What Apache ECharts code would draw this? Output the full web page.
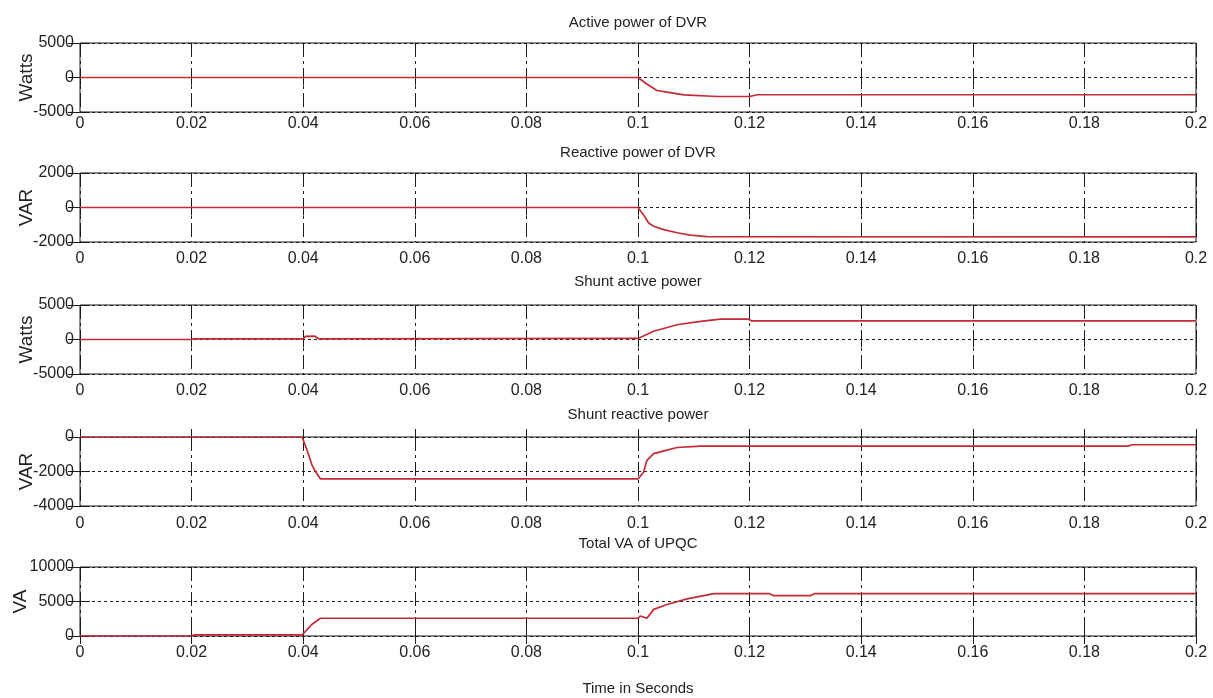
<!DOCTYPE html>
<html><head><meta charset="utf-8">
<script src="https://cdn.jsdelivr.net/npm/echarts@6/dist/echarts.min.js"></script>
<style>html,body{margin:0;padding:0;background:#fff}#c{width:1213px;height:698px}</style>
</head><body><div id="c"></div>
<script>
// ---- data ----
const panelTitles = ['Active power of DVR', 'Reactive power of DVR', 'Shunt active power', 'Shunt reactive power', 'Total VA of UPQC'];
const xAxisTitle = 'Time in Seconds';
const yNames = ['Watts', 'VAR', 'Watts', 'VAR', 'VA'];
const yMin = [-5000, -2000, -5000, -4000, 0];
const yMax = [5000, 2000, 5000, 0, 10000];
const yStep = [5000, 2000, 5000, 2000, 5000];
const xMin = 0, xMax = 0.2, xStep = 0.02;

const tDvrP = [0, 0.1, 0.1015, 0.1034, 0.1052, 0.1082, 0.1142, 0.1200, 0.1214, 0.2];
const vDvrP = [0, 0, -900, -1880, -2130, -2510, -2750, -2750, -2500, -2500];

const tDvrQ = [0, 0.1, 0.1010, 0.1019, 0.1028, 0.1046, 0.1070, 0.1094, 0.1124, 0.2];
const vDvrQ = [0, 0, -430, -900, -1090, -1280, -1465, -1600, -1690, -1700];

const tShP = [0, 0.02, 0.0204, 0.04, 0.0404, 0.0420, 0.0428, 0.1, 0.1028, 0.1070, 0.1112, 0.1148, 0.1197, 0.1203, 0.2];
const vShP = [0, 0, 100, 100, 450, 500, 100, 150, 1190, 2140, 2620, 2960, 2960, 2710, 2710];

const tShQ = [0, 0.0398, 0.0407, 0.0416, 0.0422, 0.0431, 0.1, 0.1010, 0.1016, 0.1028, 0.1052, 0.1070, 0.1112, 0.1878, 0.1886, 0.2];
const vShQ = [0, 0, -765, -1650, -2000, -2430, -2430, -2040, -1350, -960, -765, -610, -530, -530, -450, -450];

const tVA = [0, 0.02, 0.0204, 0.0398, 0.0416, 0.0431, 0.1, 0.1004, 0.1016, 0.1028, 0.1052, 0.1088, 0.1136, 0.1236, 0.1242, 0.1310, 0.1316, 0.2];
const vVA = [0, 0, 150, 150, 1710, 2570, 2570, 2900, 2570, 3860, 4570, 5380, 6140, 6140, 5860, 5860, 6140, 6140];

const seriesT = [tDvrP, tDvrQ, tShP, tShQ, tVA];
const seriesV = [vDvrP, vDvrQ, vShP, vShQ, vVA];

// ---- layout / style ----
const FONT = "'Liberation Sans',Arial,sans-serif";
const gridTops = [43, 173, 305, 437, 567];
const gridH = 69, gridL = 80, gridR = 17;
const labelMargins = [4, 9, 9, 10, 9];
const nameGaps = [44, 44, 44, 44, 50];
const titleTops = [15, 145, 274, 407, 536];
const RED = '#c42a36';
const INK = '#1a1a1a';

const grids = [], xAxes = [], yAxes = [], series = [], titles = [];
for (let i = 0; i < 5; i++) {
  grids.push({left: gridL, right: gridR, top: gridTops[i], height: gridH, outerBoundsMode: 'none', containLabel: false,
    show: true, borderColor: INK, borderWidth: 1, backgroundColor: '#fff'});
  titles.push({text: panelTitles[i], left: 638, top: titleTops[i], textAlign: 'center', padding: 0,
    textStyle: {fontFamily: FONT, fontSize: 15, fontWeight: 'normal', color: '#222'}});
  xAxes.push({gridIndex: i, type: 'value', min: xMin, max: xMax, interval: xStep, position: 'bottom',
    axisLine: {show: false}, axisTick: {show: true, inside: true, length: 8, lineStyle: {color: INK}},
    axisLabel: {margin: labelMargins[i], fontFamily: FONT, fontSize: 16, color: '#222',
      formatter: v => String(+v.toFixed(3))},
    splitLine: {show: true, lineStyle: {color: INK, width: 1, type: [14, 4, 3, 4]}}});
  xAxes.push({gridIndex: i, type: 'value', min: xMin, max: xMax, interval: xStep, position: 'top',
    axisLine: {show: false}, axisTick: {show: true, inside: true, length: 8, lineStyle: {color: INK}},
    axisLabel: {show: false}, splitLine: {show: false}});
  yAxes.push({gridIndex: i, type: 'value', min: yMin[i], max: yMax[i], interval: yStep[i], position: 'left',
    name: yNames[i], nameLocation: 'middle', nameGap: nameGaps[i], nameRotate: 90, nameMoveOverlap: false,
    nameTextStyle: {fontFamily: FONT, fontSize: 19, color: '#222'},
    axisLine: {show: false}, axisTick: {show: true, inside: true, length: 10, lineStyle: {color: INK}},
    axisLabel: {margin: 6, fontFamily: FONT, fontSize: 16, color: '#222', formatter: v => String(v)},
    splitLine: {show: true, lineStyle: {color: INK, width: 1, type: [3, 3]}}});
  yAxes.push({gridIndex: i, type: 'value', min: yMin[i], max: yMax[i], interval: yStep[i], position: 'right',
    axisLine: {show: false}, axisTick: {show: true, inside: true, length: 12, lineStyle: {color: INK}},
    axisLabel: {show: false}, splitLine: {show: false}});
  series.push({type: 'line', xAxisIndex: 2 * i, yAxisIndex: 2 * i, showSymbol: false, symbol: 'none',
    animation: false, lineStyle: {color: RED, width: 1.7}, z: 5,
    data: seriesT[i].map((t, k) => [t, seriesV[i][k]])});
}
titles.push({text: xAxisTitle, left: 638, top: 681, textAlign: 'center', padding: 0,
  textStyle: {fontFamily: FONT, fontSize: 15, fontWeight: 'normal', color: '#222'}});

const chart = echarts.init(document.getElementById('c'), null, {renderer: 'canvas'});
chart.setOption({backgroundColor: '#fff', animation: false, title: titles, grid: grids,
  xAxis: xAxes, yAxis: yAxes, series: series});
</script></body></html>
